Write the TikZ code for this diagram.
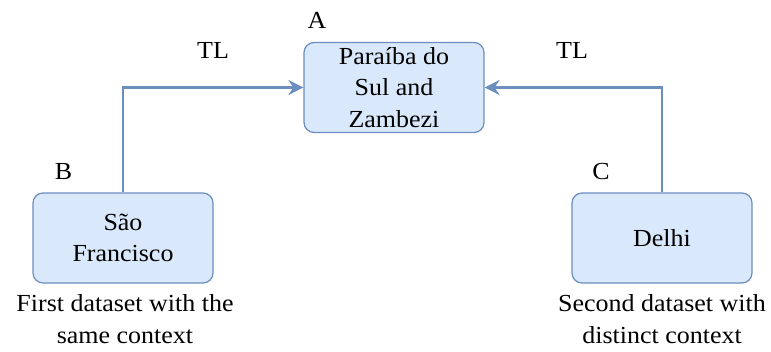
\documentclass[tikz,border=0pt]{standalone}
\usepackage{fontspec}
\setmainfont{Liberation Serif}[FakeStretch=1.06]
\usetikzlibrary{arrows.meta}
\definecolor{boxfill}{HTML}{DAE8FC}
\definecolor{boxline}{HTML}{6C8EBF}
\begin{document}
\begin{tikzpicture}[x=1pt,y=-1pt,
  box/.style={draw=boxline,fill=boxfill,line width=1.2pt,rounded corners=10pt,
    minimum width=180pt,minimum height=90pt,align=center,inner sep=0pt,
    font=\fontsize{24.5}{31.5}\selectfont},
  lbl/.style={font=\fontsize{24.5}{28}\selectfont,inner sep=0pt,anchor=base},
  captext/.style={font=\fontsize{24.5}{31.5}\selectfont,align=center,inner sep=0pt,anchor=base},
  conn/.style={draw=boxline,line width=2.5pt,-{Stealth[length=15pt,width=15pt,inset=5pt]}}]
\useasboundingbox (0,0) rectangle (771,351);
\node[box] (A) at (394,87.5) {Paraíba do\\Sul and\\Zambezi};
\node[box] (B) at (123,238) {São\\Francisco};
\node[box] (C) at (662,238) {Delhi};
\node[lbl] (la) at (317,28) {A};
\node[lbl] (lb) at (63.5,179) {B};
\node[lbl] (lc) at (601,179) {C};
\node[lbl] (t1) at (213,58) {TL};
\node[lbl] (t2) at (572,58) {TL};
\node[captext] (cb) at (125,343) {First dataset with the\\same context};
\node[captext] (cc) at (662,343) {Second dataset with\\distinct context};
\draw[conn] (B.north) |- (A.west);
\draw[conn] (C.north) |- (A.east);
\end{tikzpicture}
\end{document}
